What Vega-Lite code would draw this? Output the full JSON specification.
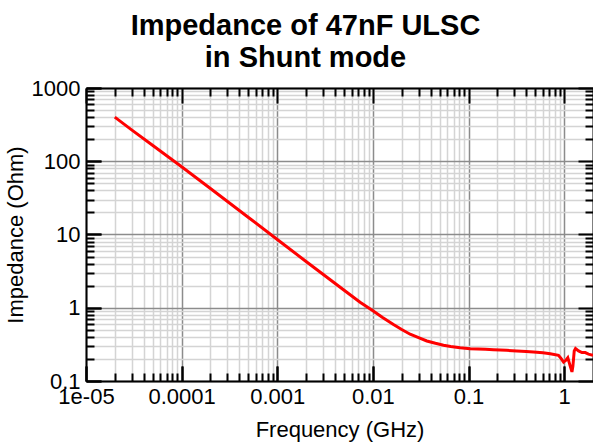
{
  "$schema": "https://vega.github.io/schema/vega-lite/v6.json",
  "width": 507,
  "height": 293,
  "autosize": "none",
  "padding": {"left": 86, "top": 88, "right": 0, "bottom": 64},
  "background": "white",
  "config": {
    "font": "Liberation Sans",
    "view": {"stroke": null},
    "axis": {"labelFont": "Liberation Sans", "titleFont": "Liberation Sans", "labelColor": "black", "titleColor": "black"}
  },
  "title": {
    "text": ["Impedance of 47nF ULSC", "in Shunt mode"],
    "font": "Liberation Sans",
    "fontSize": 29,
    "fontWeight": "bold",
    "lineHeight": 32,
    "color": "black",
    "anchor": "middle",
    "dx": -34,
    "offset": 4
  },
  "data": {
    "values": [
      {"f": 2e-5, "z": 400},
      {"f": 3e-5, "z": 268},
      {"f": 5e-5, "z": 164},
      {"f": 1e-4, "z": 84},
      {"f": 2e-4, "z": 42.5},
      {"f": 5e-4, "z": 17.1},
      {"f": 1e-3, "z": 8.55},
      {"f": 2e-3, "z": 4.28},
      {"f": 5e-3, "z": 1.73},
      {"f": 0.00734, "z": 1.19},
      {"f": 0.01, "z": 0.91},
      {"f": 0.0125, "z": 0.74},
      {"f": 0.0164, "z": 0.59},
      {"f": 0.02, "z": 0.505},
      {"f": 0.0245, "z": 0.435},
      {"f": 0.03, "z": 0.392},
      {"f": 0.0366, "z": 0.352},
      {"f": 0.045, "z": 0.327},
      {"f": 0.0547, "z": 0.307},
      {"f": 0.065, "z": 0.296},
      {"f": 0.0817, "z": 0.285},
      {"f": 0.104, "z": 0.276},
      {"f": 0.15, "z": 0.272},
      {"f": 0.182, "z": 0.268},
      {"f": 0.214, "z": 0.265},
      {"f": 0.25, "z": 0.262},
      {"f": 0.32, "z": 0.257},
      {"f": 0.4, "z": 0.252},
      {"f": 0.477, "z": 0.248},
      {"f": 0.6, "z": 0.243},
      {"f": 0.714, "z": 0.236},
      {"f": 0.871, "z": 0.224},
      {"f": 0.93, "z": 0.202},
      {"f": 0.984, "z": 0.181},
      {"f": 1.042, "z": 0.193},
      {"f": 1.09, "z": 0.208},
      {"f": 1.156, "z": 0.16},
      {"f": 1.205, "z": 0.133},
      {"f": 1.233, "z": 0.16},
      {"f": 1.273, "z": 0.257},
      {"f": 1.313, "z": 0.277},
      {"f": 1.412, "z": 0.257},
      {"f": 1.532, "z": 0.244},
      {"f": 1.659, "z": 0.244},
      {"f": 1.795, "z": 0.233},
      {"f": 2.0, "z": 0.224}
    ]
  },
  "resolve": {"axis": {"x": "independent", "y": "independent"}},
  "layer": [
    {
      "mark": {"type": "line", "opacity": 0},
      "encoding": {
        "x": {"field": "f", "type": "quantitative",
          "scale": {"type": "log", "domain": [1e-5, 2], "nice": false},
          "axis": {"orient": "bottom", "values": [2e-5,3e-5,4e-5,5e-5,6e-5,7e-5,8e-5,9e-5,2e-4,3e-4,4e-4,5e-4,6e-4,7e-4,8e-4,9e-4,0.002,0.003,0.004,0.005,0.006,0.007,0.008,0.009,0.02,0.03,0.04,0.05,0.06,0.07,0.08,0.09,0.2,0.3,0.4,0.5,0.6,0.7,0.8,0.9],
            "grid": true, "gridColor": "#d4d4d4", "gridWidth": 1.5, "gridOpacity": 1,
            "ticks": true, "tickSize": -8, "tickColor": "black", "tickWidth": 2,
            "labels": false, "domain": false, "title": null}},
        "y": {"field": "z", "type": "quantitative",
          "scale": {"type": "log", "domain": [0.1, 1000], "nice": false},
          "axis": {"orient": "left", "values": [0.2,0.3,0.4,0.5,0.6,0.7,0.8,0.9,2,3,4,5,6,7,8,9,20,30,40,50,60,70,80,90,200,300,400,500,600,700,800,900],
            "grid": true, "gridColor": "#d4d4d4", "gridWidth": 1.5, "gridOpacity": 1,
            "ticks": true, "tickSize": -8, "tickColor": "black", "tickWidth": 2,
            "labels": false, "domain": false, "title": null}}
      }
    },
    {
      "mark": {"type": "line", "opacity": 0},
      "encoding": {
        "x": {"field": "f", "type": "quantitative",
          "axis": {"orient": "bottom", "values": [1e-5, 1e-4, 0.001, 0.01, 0.1, 1],
            "grid": true, "gridColor": "#8c8c8c", "gridWidth": 1.5, "gridOpacity": 1,
            "ticks": true, "tickSize": -15, "tickColor": "black", "tickWidth": 2,
            "labels": false, "domain": false, "title": null}},
        "y": {"field": "z", "type": "quantitative",
          "axis": {"orient": "left", "values": [0.1, 1, 10, 100, 1000],
            "grid": true, "gridColor": "#8c8c8c", "gridWidth": 1.5, "gridOpacity": 1,
            "ticks": true, "tickSize": -15, "tickColor": "black", "tickWidth": 2,
            "labels": false, "domain": false, "title": null}}
      }
    },
    {
      "mark": {"type": "line", "opacity": 0},
      "encoding": {
        "x": {"field": "f", "type": "quantitative",
          "axis": {"orient": "top", "values": [2e-5,3e-5,4e-5,5e-5,6e-5,7e-5,8e-5,9e-5,2e-4,3e-4,4e-4,5e-4,6e-4,7e-4,8e-4,9e-4,0.002,0.003,0.004,0.005,0.006,0.007,0.008,0.009,0.02,0.03,0.04,0.05,0.06,0.07,0.08,0.09,0.2,0.3,0.4,0.5,0.6,0.7,0.8,0.9],
            "grid": false, "ticks": true, "tickSize": -8, "tickColor": "black", "tickWidth": 2,
            "labels": false, "domain": true, "domainColor": "black", "domainWidth": 2, "title": null}},
        "y": {"field": "z", "type": "quantitative",
          "axis": {"orient": "right", "values": [0.2,0.3,0.4,0.5,0.6,0.7,0.8,0.9,2,3,4,5,6,7,8,9,20,30,40,50,60,70,80,90,200,300,400,500,600,700,800,900],
            "grid": false, "ticks": true, "tickSize": -8, "tickColor": "black", "tickWidth": 2,
            "labels": false, "domain": true, "domainColor": "black", "domainWidth": 2, "title": null}}
      }
    },
    {
      "mark": {"type": "line", "opacity": 0},
      "encoding": {
        "x": {"field": "f", "type": "quantitative",
          "axis": {"orient": "top", "values": [1e-5, 1e-4, 0.001, 0.01, 0.1, 1],
            "grid": false, "ticks": true, "tickSize": -15, "tickColor": "black", "tickWidth": 2,
            "labels": false, "domain": false, "title": null}},
        "y": {"field": "z", "type": "quantitative",
          "axis": {"orient": "right", "values": [0.1, 1, 10, 100, 1000],
            "grid": false, "ticks": true, "tickSize": -15, "tickColor": "black", "tickWidth": 2,
            "labels": false, "domain": false, "title": null}}
      }
    },
    {
      "mark": {"type": "line", "opacity": 0},
      "encoding": {
        "x": {"field": "f", "type": "quantitative",
          "axis": {"orient": "bottom", "values": [1e-5, 1e-4, 0.001, 0.01, 0.1, 1],
            "grid": false, "ticks": true, "tickSize": -15, "tickColor": "black", "tickWidth": 2,
            "labels": true, "labelExpr": "datum.value < 0.00005 ? '1e-05' : format(datum.value, '~g')",
            "labelFontSize": 22, "labelPadding": 20, "labelFlush": false, "labelOverlap": false,
            "domain": true, "domainColor": "black", "domainWidth": 2,
            "title": "Frequency (GHz)", "titleFontSize": 22, "titleFontWeight": "normal", "titlePadding": 12}},
        "y": {"field": "z", "type": "quantitative",
          "axis": {"orient": "left", "values": [0.1, 1, 10, 100, 1000],
            "grid": false, "ticks": true, "tickSize": -15, "tickColor": "black", "tickWidth": 2,
            "labels": true, "labelExpr": "format(datum.value, '~g')",
            "labelFontSize": 22, "labelPadding": 21, "labelFlush": false, "labelOverlap": false,
            "domain": true, "domainColor": "black", "domainWidth": 2,
            "title": "Impedance (Ohm)", "titleFontSize": 22, "titleFontWeight": "normal", "titlePadding": 4}}
      }
    },
    {
      "mark": {"type": "line", "color": "#ff0000", "strokeWidth": 3},
      "encoding": {
        "x": {"field": "f", "type": "quantitative", "axis": null},
        "y": {"field": "z", "type": "quantitative", "axis": null}
      }
    }
  ]
}
